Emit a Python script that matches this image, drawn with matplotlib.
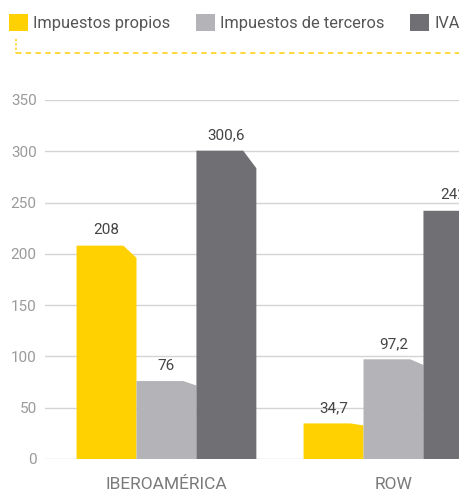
import matplotlib
matplotlib.use('Agg')
from matplotlib import pyplot as plt
from matplotlib.patches import Patch
from matplotlib.lines import Line2D

plt.rcParams['font.family'] = ['Roboto', 'DejaVu Sans']

# data
regions = ['IBEROAMÉRICA', 'ROW']
series = ['Impuestos propios', 'Impuestos de terceros', 'IVA']
propios = [208, 34.7]
terceros = [76, 97.2]
iva = [300.6, 242]
y_ticks = [0, 50, 100, 150, 200, 250, 300, 350]

colors = ['#FFD100', '#B4B4B8', '#707074']
bar_w = 0.264


def fmt(v):
    # spanish decimal comma
    s = ('%g' % v)
    return s.replace('.', ',')


def chamfer_bar(ax, x, h, w, color):
    '''
    Draws a bar with its top right corner cut off
    '''
    x0, x1 = x - w / 2, x + w / 2
    cw = w * 0.22
    ch = h * 0.057
    xs = [x0, x0, x1 - cw, x1, x1]
    ys = [0, h, h, h - ch, 0]
    ax.fill(xs, ys, color=color, lw=0, zorder=3)


fig = plt.figure(figsize=(4.6, 4.95), dpi=100)
ax = fig.add_axes([45 / 460, 36 / 495, 415 / 460, 359 / 495])

values = [propios, terceros, iva]
for i, (vals, col) in enumerate(zip(values, colors)):
    for g, v in enumerate(vals):
        x = g + (i - 1) * bar_w
        chamfer_bar(ax, x, v, bar_w, col)
        ax.annotate(fmt(v), (x, v), textcoords='offset points', xytext=(0, 6),
                    ha='center', va='bottom', fontsize=11, color='#444444',
                    zorder=4)

ax.set_xlim(-0.535, 1.293)
ax.set_ylim(0, 350)
ax.set_yticks(y_ticks)
ax.set_yticklabels([str(t) for t in y_ticks])
ax.set_xticks(range(len(regions)))
ax.set_xticklabels(regions)
ax.tick_params(axis='y', length=0, pad=6, labelsize=11, labelcolor='#9a9a9a')
ax.tick_params(axis='x', length=0, pad=13, labelsize=12.5, labelcolor='#7a7a7a')
ax.grid(axis='y', color='#d4d4d4', lw=1, zorder=0)
ax.set_axisbelow(True)
for s in ax.spines.values():
    s.set_visible(False)

# legend along the top
handles = [Patch(facecolor=c, edgecolor='none') for c in colors]
fig.legend(handles, series, loc='upper left', bbox_to_anchor=(9 / 460, 1 - 14 / 495),
           ncol=3, frameon=False, fontsize=11.8, labelcolor='#555555',
           handlelength=1.15, handleheight=1.25, handletextpad=0.3,
           columnspacing=1.6, borderpad=0, borderaxespad=0)

# dashed yellow separator under the legend
yl = 1 - 52.7 / 495
fig.add_artist(Line2D([16 / 460, 1], [yl, yl], color='#FFD52E', lw=1.3,
                      dashes=(3, 2.4), transform=fig.transFigure))
fig.add_artist(Line2D([16 / 460, 16 / 460], [1 - 39 / 495, yl], color='#FFD52E',
                      lw=1.3, dashes=(1.2, 1.2), transform=fig.transFigure))

plt.savefig('out.png', dpi=100)
